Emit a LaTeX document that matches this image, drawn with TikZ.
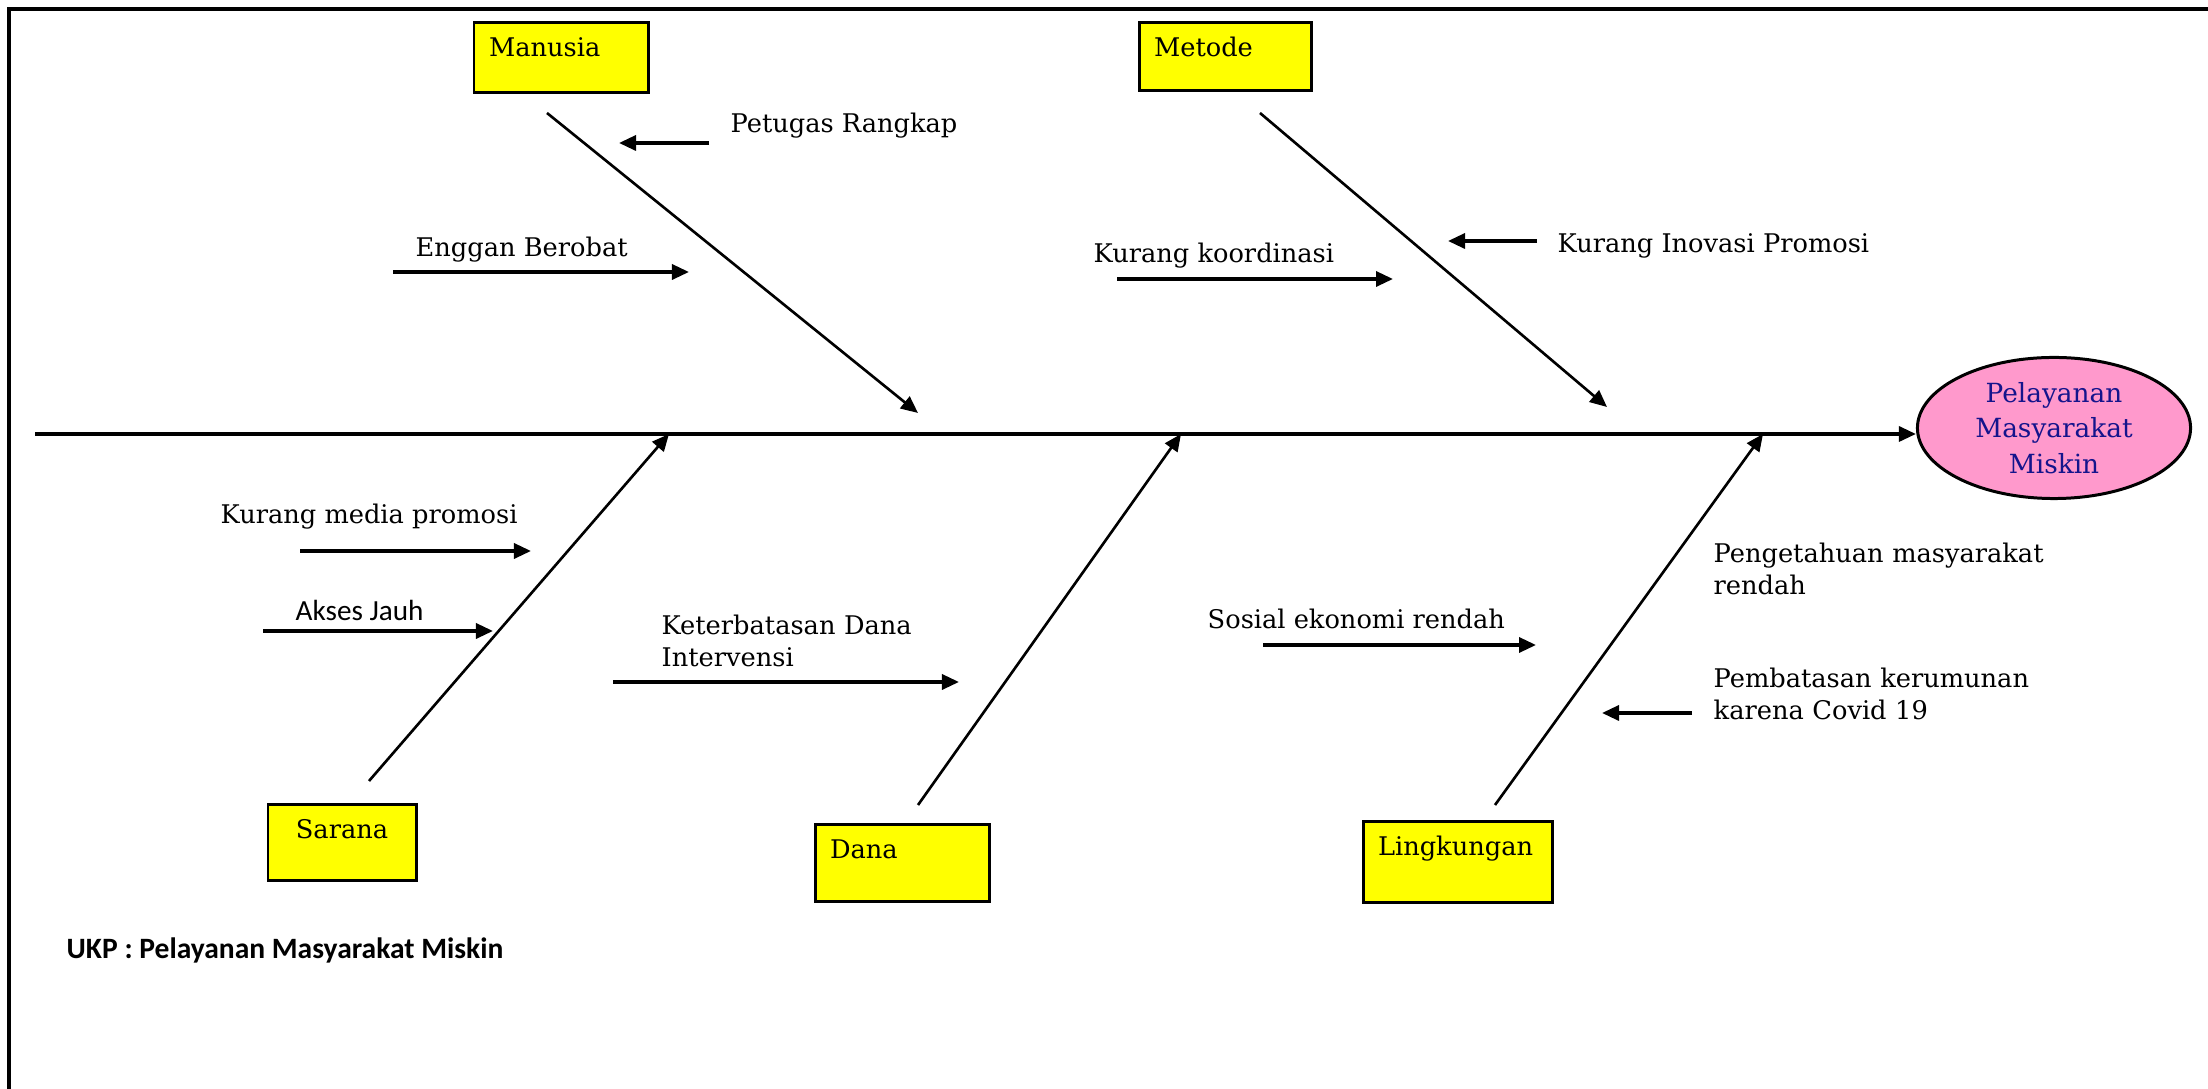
\documentclass[tikz,border=0pt]{standalone}
\usepackage{fontspec}
\setmainfont{DejaVu Serif}
\newfontfamily\calibrifont{Carlito}
\usepackage{tikz}
\usetikzlibrary{arrows.meta,shapes.geometric,positioning}

\definecolor{boxyellow}{RGB}{255,255,0}
\definecolor{effectpink}{RGB}{255,153,204}
\definecolor{effectblue}{RGB}{20,20,140}

\tikzset{
  causebox/.style={draw,fill=boxyellow,line width=0.85pt,anchor=north west,outer sep=0pt,inner xsep=0.15cm,inner ysep=0.1cm,text height=0.23cm,align=left},
  spine/.style={line width=0.95pt,-{Triangle[length=0.17cm,width=0.15cm]}},
  bone/.style={line width=0.75pt,-{Triangle[length=0.17cm,width=0.15cm]}},
  cause/.style={line width=0.95pt,-{Triangle[length=0.17cm,width=0.15cm]}},
  causetext/.style={anchor=base west,inner sep=0pt,align=left}
}

\begin{document}
\begin{tikzpicture}[x=0.01cm,y=-0.01cm,font=\fontsize{7.3}{9}\selectfont]
  \useasboundingbox (0,0) rectangle (2208,1089);
  \coordinate (fTL) at (9,9);
  \coordinate (fTR) at (2208,9);
  \coordinate (fBL) at (9,1089);
  \draw[line width=0.9pt] (fTR) -- (fTL) -- (fBL);

  \node[ellipse,draw,fill=effectpink,line width=0.85pt,minimum width=2.73cm,minimum height=1.41cm,inner sep=0pt,align=center,text=effectblue,font=\fontsize{7.5}{10.1}\selectfont] (effect) at (2054,428) {Pelayanan\\Masyarakat\\Miskin};
  \node[causebox,text width=1.44cm,text depth=0.26cm] (manusia) at (474,23) {Manusia};
  \node[causebox,text width=1.42cm,text depth=0.24cm] (metode) at (1139,23) {Metode};
  \node[causebox,align=center,text width=1.18cm,text depth=0.32cm] (sarana) at (268,805) {Sarana};
  \node[causebox,text width=1.44cm,text depth=0.33cm] (dana) at (815,825) {Dana};
  \node[causebox,text width=1.59cm,text depth=0.37cm] (lingkungan) at (1363,822) {Lingkungan};

  \coordinate (spineS) at (35,434);
  \draw[spine] (spineS) -- (spineS -| effect.west);

  \coordinate (sManusia) at (547,113);
  \coordinate (eManusia) at (918,413);
  \coordinate (sMetode) at (1260,113);
  \coordinate (eMetode) at (1607,407);
  \coordinate (sSarana) at (369,781);
  \coordinate (eSarana) at (669,434);
  \coordinate (sDana) at (918,805);
  \coordinate (eDana) at (1181,434);
  \coordinate (sLingkungan) at (1495,805);
  \coordinate (eLingkungan) at (1763,434);
  \draw[bone] (sManusia) -- (eManusia);
  \draw[bone] (sMetode) -- (eMetode);
  \draw[bone] (sSarana) -- (eSarana);
  \draw[bone] (sDana) -- (eDana);
  \draw[bone] (sLingkungan) -- (eLingkungan);

  \node[causetext] (lPetugas) at (730,133) {Petugas Rangkap};
  \node[causetext] (lEnggan) at (415,257) {Enggan Berobat};
  \node[causetext] (lKoordinasi) at (1093,263) {Kurang koordinasi};
  \node[causetext] (lInovasi) at (1557,253) {Kurang Inovasi Promosi};
  \node[causetext] (lMedia) at (220,524) {Kurang media promosi};
  \node[causetext,font=\calibrifont\fontsize{8.3}{10}\selectfont] (lAkses) at (295,621) {Akses Jauh};
  \node[causetext,text width=3cm] (lDana) at (661,635) {Keterbatasan Dana\\Intervensi};
  \node[causetext] (lSosial) at (1207,629) {Sosial ekonomi rendah};
  \node[causetext,text width=4cm] (lPengetahuan) at (1713,563) {Pengetahuan masyarakat\\rendah};
  \node[causetext,text width=4cm] (lPembatasan) at (1713,688) {Pembatasan kerumunan\\karena Covid 19};

  \coordinate (aPetugas) at (709,143);
  \coordinate (bPetugas) at (619,143);
  \coordinate (aEnggan) at (393,272);
  \coordinate (bEnggan) at (689,272);
  \coordinate (aKoordinasi) at (1117,279);
  \coordinate (bKoordinasi) at (1393,279);
  \coordinate (aInovasi) at (1537,241);
  \coordinate (bInovasi) at (1448,241);
  \coordinate (aMedia) at (300,551);
  \coordinate (bMedia) at (531,551);
  \coordinate (aAkses) at (263,631);
  \coordinate (bAkses) at (493,631);
  \coordinate (aDana) at (613,682);
  \coordinate (bDana) at (959,682);
  \coordinate (aSosial) at (1263,645);
  \coordinate (bSosial) at (1536,645);
  \coordinate (aPembatasan) at (1692,713);
  \coordinate (bPembatasan) at (1602,713);
  \draw[cause] (aPetugas) -- (bPetugas);
  \draw[cause] (aEnggan) -- (bEnggan);
  \draw[cause] (aKoordinasi) -- (bKoordinasi);
  \draw[cause] (aInovasi) -- (bInovasi);
  \draw[cause] (aMedia) -- (bMedia);
  \draw[cause] (aAkses) -- (bAkses);
  \draw[cause] (aDana) -- (bDana);
  \draw[cause] (aSosial) -- (bSosial);
  \draw[cause] (aPembatasan) -- (bPembatasan);

  \node[anchor=base west,inner sep=0pt,font=\calibrifont\bfseries\fontsize{8.4}{10}\selectfont] (ukp) at (66,959) {UKP : Pelayanan Masyarakat Miskin};
\end{tikzpicture}
\end{document}
